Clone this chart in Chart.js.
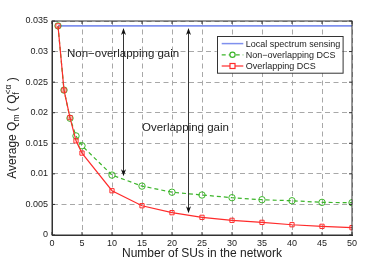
<!DOCTYPE html>
<html>
<head>
<meta charset="utf-8">
<script src="https://cdn.jsdelivr.net/npm/chart.js@4.4.1/dist/chart.umd.min.js"></script>
<style>
  body { margin: 0; background: #fff; }
  canvas { display: block; }
</style>
</head>
<body>
<canvas id="qmChart" width="388" height="265"></canvas>
<script>
// Number of SUs in the network
const numSUs = [1, 2, 3, 4, 5, 10, 15, 20, 25, 30, 35, 40, 45, 50];
// Average Qm for each scheme
const localSensing = [0.0342, 0.0342, 0.0342, 0.0342, 0.0342, 0.0342, 0.0342, 0.0342, 0.0342, 0.0342, 0.0342, 0.0342, 0.0342, 0.0342];
const nonOverlapping = [0.0342, 0.0237, 0.0191, 0.0162, 0.0146, 0.0098, 0.0080, 0.0070, 0.00654, 0.0061, 0.00577, 0.0056, 0.00534, 0.00528];
const overlapping = [0.0342, 0.0237, 0.0192, 0.0154, 0.0134, 0.00724, 0.00479, 0.00365, 0.00289, 0.0024, 0.00207, 0.00168, 0.00142, 0.0012];

const seriesNames = ['Local spectrum sensing', 'Non\u2212overlapping DCS', 'Overlapping DCS'];

// gain arrows: x position, bottom value (top is the local sensing level)
const gainArrowX = [11.9, 22.7];
const gainArrowBottom = [0.0096, 0.00355];
const gainLabels = ['Non\u2212overlapping gain', 'Overlapping gain'];
const gainLabelX = [2.5, 15];
const gainLabelY = [0.0296, 0.0175];

const FONT = '"Liberation Sans", Arial, Helvetica, sans-serif';
const BLUE = '#7f90ee', GREEN = '#3cb52a', RED = '#ff2b2b';

function toXY(ys) {
    return numSUs.map((x, i) => ({ x: x, y: ys[i] }));
}

function arrowHead(ctx, x, y, dir) {
    // dir: -1 points up, 1 points down
    ctx.beginPath();
    ctx.moveTo(x, y);
    ctx.lineTo(x - 2.5, y - dir * 7);
    ctx.lineTo(x, y - dir * 5);
    ctx.lineTo(x + 2.5, y - dir * 7);
    ctx.closePath();
    ctx.fill();
}

const extras = {
    id: 'extras',
    afterDraw(chart) {
        const ctx = chart.ctx;
        const xs = chart.scales.x, ys = chart.scales.y;
        const area = chart.chartArea;
        ctx.save();

        // frame
        ctx.strokeStyle = '#333';
        ctx.lineWidth = 1;
        ctx.setLineDash([]);
        ctx.strokeRect(area.left, area.top, area.right - area.left, area.bottom - area.top);

        // inward ticks
        ctx.beginPath();
        for (let v = 0; v <= 50; v += 5) {
            const px = xs.getPixelForValue(v);
            ctx.moveTo(px, area.bottom); ctx.lineTo(px, area.bottom - 3);
            ctx.moveTo(px, area.top); ctx.lineTo(px, area.top + 3);
        }
        for (let v = 0; v <= 0.035001; v += 0.005) {
            const py = ys.getPixelForValue(v);
            ctx.moveTo(area.left, py); ctx.lineTo(area.left + 3, py);
            ctx.moveTo(area.right, py); ctx.lineTo(area.right - 3, py);
        }
        ctx.stroke();

        // gain arrows
        ctx.strokeStyle = '#333';
        ctx.fillStyle = '#111';
        gainArrowX.forEach((gx, i) => {
            const px = Math.round(xs.getPixelForValue(gx)) + 0.5;
            const top = ys.getPixelForValue(localSensing[0]) + 2;
            const bot = ys.getPixelForValue(gainArrowBottom[i]);
            ctx.beginPath();
            ctx.moveTo(px, top + 4);
            ctx.lineTo(px, bot - 4);
            ctx.stroke();
            arrowHead(ctx, px, top, -1);
            arrowHead(ctx, px, bot, 1);
        });

        // gain labels
        ctx.fillStyle = '#222';
        ctx.font = '11.5px ' + FONT;
        ctx.textBaseline = 'middle';
        ctx.textAlign = 'left';
        gainLabels.forEach((t, i) => {
            ctx.fillText(t, xs.getPixelForValue(gainLabelX[i]), ys.getPixelForValue(gainLabelY[i]));
        });

        // legend
        const lw = 125.6, lh = 36.7;
        const lx = area.right - 9.7 - lw, ly = area.top + 15.3;
        ctx.fillStyle = '#fff';
        ctx.fillRect(lx, ly, lw, lh);
        ctx.strokeStyle = '#333';
        ctx.strokeRect(Math.round(lx) + 0.5, Math.round(ly) + 0.5, lw, lh);
        const colors = [BLUE, GREEN, RED];
        const dashes = [[], [4, 3], []];
        ctx.font = '9px ' + FONT;
        seriesNames.forEach((name, i) => {
            const y = ly + 7.3 + i * 11.2;
            ctx.strokeStyle = colors[i];
            ctx.lineWidth = i === 0 ? 1.5 : 1.2;
            ctx.setLineDash(dashes[i]);
            ctx.beginPath();
            ctx.moveTo(lx + 5, y); ctx.lineTo(lx + 26.6, y);
            ctx.stroke();
            ctx.setLineDash([]);
            const mx = lx + 15.8;
            if (i === 1) {
                ctx.fillStyle = '#fff';
                ctx.beginPath(); ctx.arc(mx, y, 2.6, 0, Math.PI * 2); ctx.fill(); ctx.stroke();
            } else if (i === 2) {
                ctx.fillStyle = '#fff';
                ctx.fillRect(mx - 2.5, y - 2.5, 5, 5);
                ctx.strokeRect(mx - 2.5, y - 2.5, 5, 5);
            }
            ctx.fillStyle = '#222';
            ctx.fillText(name, lx + 29, y + 0.5);
        });

        // y axis title with sub/superscripts
        const parts = [
            { t: 'Average Q', s: 12, dy: 0 },
            { t: 'm', s: 8.5, dy: 3.5 },
            { t: ' ( Q', s: 12, dy: 0 },
            { t: 'f', s: 8.5, dy: 3.5 },
            { t: '<\u03b1', s: 8.5, dy: -4.5 },
            { t: ' )', s: 12, dy: 0 }
        ];
        parts.forEach(p => {
            ctx.font = p.s + 'px ' + FONT;
            p.w = ctx.measureText(p.t).width;
        });
        // superscript sits over subscript f
        const total = parts.reduce((a, p, i) => a + (i === 3 ? 0 : p.w), 0);
        ctx.translate(13, (area.top + area.bottom) / 2);
        ctx.rotate(-Math.PI / 2);
        ctx.fillStyle = '#222';
        ctx.textBaseline = 'middle';
        let cx = -total / 2;
        parts.forEach((p, i) => {
            ctx.font = p.s + 'px ' + FONT;
            ctx.fillText(p.t, cx, p.dy);
            if (i !== 3) cx += p.w;
        });
        ctx.restore();
    }
};

const ctx = document.getElementById('qmChart').getContext('2d');
const qmChart = new Chart(ctx, {
    type: 'line',
    data: {
        datasets: [{
            label: seriesNames[2],
            data: toXY(overlapping),
            borderColor: RED,
            backgroundColor: '#fff',
            borderWidth: 1.2,
            pointStyle: 'rect',
            pointRadius: 3,
            pointBorderWidth: 1,
            pointBorderColor: RED,
            pointBackgroundColor: 'rgba(255,255,255,0)',
            tension: 0
        }, {
            label: seriesNames[1],
            data: toXY(nonOverlapping),
            borderColor: GREEN,
            borderDash: [4, 3],
            borderWidth: 1.2,
            pointStyle: 'circle',
            pointRadius: 3.2,
            pointBorderWidth: 1,
            pointBorderColor: GREEN,
            pointBackgroundColor: 'rgba(255,255,255,0)',
            tension: 0
        }, {
            label: seriesNames[0],
            data: toXY(localSensing),
            borderColor: BLUE,
            borderWidth: 1.8,
            pointRadius: 0,
            tension: 0
        }]
    },
    options: {
        responsive: false,
        animation: false,
        layout: { padding: { top: 21, right: 36, bottom: 4, left: 0 } },
        plugins: { legend: { display: false }, tooltip: { enabled: false } },
        scales: {
            x: {
                type: 'linear',
                min: 0,
                max: 50,
                afterFit: s => { s.height = 26; },
                ticks: { stepSize: 5, color: '#222', font: { family: FONT, size: 9 }, padding: 3, maxRotation: 0 },
                grid: { color: '#a8a8a8', drawTicks: false },
                border: { color: '#333', dash: [5, 3.5] },
                title: {
                    display: true,
                    text: 'Number of SUs in the network',
                    color: '#222',
                    font: { family: FONT, size: 12 },
                    padding: 0
                }
            },
            y: {
                min: 0,
                max: 0.035,
                afterFit: s => { s.width = 52; },
                ticks: {
                    stepSize: 0.005,
                    color: '#222',
                    font: { family: FONT, size: 9 },
                    padding: 4,
                    callback: v => String(+v.toFixed(3))
                },
                grid: { color: '#a8a8a8', drawTicks: false },
                border: { color: '#333', dash: [5, 3.5] }
            }
        }
    },
    plugins: [extras]
});
</script>
</body>
</html>
